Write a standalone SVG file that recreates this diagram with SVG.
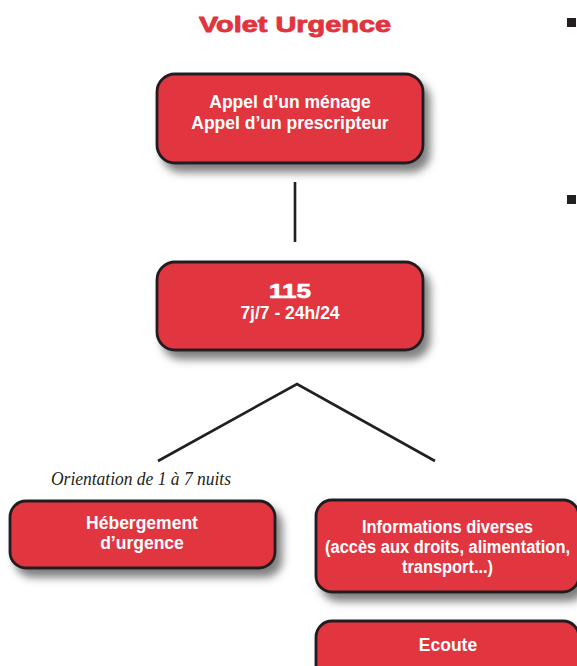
<svg xmlns="http://www.w3.org/2000/svg" width="577" height="666" viewBox="0 0 577 666">
<defs>
<filter id="sh" x="-10%" y="-20%" width="130%" height="150%">
<feDropShadow dx="6" dy="8" stdDeviation="4.5" flood-color="#000" flood-opacity="0.5"/>
</filter>
<style>
.box{fill:#e1343f;stroke:#231f20;stroke-width:2.8;filter:url(#sh)}
.t{font-family:"Liberation Sans",Arial,sans-serif;font-weight:bold;font-size:17.5px;fill:#fff;text-anchor:middle}
.heavy{font-family:"Liberation Sans",Arial,sans-serif;font-weight:bold;stroke-linejoin:round}
.ln{stroke:#231f20;stroke-width:2.6;fill:none}
.note{font-family:"Liberation Serif","Times New Roman",serif;font-style:italic;font-size:18px;fill:#231f20}
</style>
</defs>
<rect width="577" height="666" fill="#fff"/>
<text x="199" y="32" class="heavy" font-size="22.5" fill="#e1343f" stroke="#e1343f" stroke-width="0.9" textLength="192" lengthAdjust="spacingAndGlyphs">Volet Urgence</text>
<rect x="567" y="18" width="9" height="9" fill="#231f20"/>
<rect x="567" y="195" width="9" height="9" fill="#231f20"/>
<g id="connectors">
<line class="ln" x1="295" y1="182" x2="295" y2="242"/>
<polyline class="ln" points="158,461 297,384 435,461"/>
</g>
<g id="appel">
<rect class="box" x="157" y="74" width="266" height="89" rx="18"/>
<text class="t" x="290" y="108">Appel d’un ménage</text>
<text class="t" x="290" y="129">Appel d’un prescripteur</text>
</g>
<g id="n115">
<rect class="box" x="157" y="262" width="266" height="88" rx="18"/>
<text class="heavy" x="290" y="298" font-size="21" fill="#fff" stroke="#fff" stroke-width="0.7" text-anchor="middle" textLength="42" lengthAdjust="spacingAndGlyphs">115</text>
<text class="t" x="290" y="319" font-size="17">7j/7 - 24h/24</text>
</g>
<text class="note" x="51" y="485" textLength="180" lengthAdjust="spacingAndGlyphs">Orientation de 1 à 7 nuits</text>
<g id="hebergement">
<rect class="box" x="10" y="501" width="265" height="67" rx="16"/>
<text class="t" x="142" y="529">Hébergement</text>
<text class="t" x="142" y="549">d’urgence</text>
</g>
<g id="informations">
<rect class="box" x="316" y="500" width="263" height="92" rx="16"/>
<text class="t" x="447.5" y="533" font-size="17" textLength="171" lengthAdjust="spacingAndGlyphs">Informations diverses</text>
<text class="t" x="447.5" y="553" font-size="17" textLength="245" lengthAdjust="spacingAndGlyphs">(accès aux droits, alimentation,</text>
<text class="t" x="447.5" y="573" font-size="17" textLength="91" lengthAdjust="spacingAndGlyphs">transport...)</text>
</g>
<g id="ecoute">
<rect class="box" x="316" y="621" width="263" height="70" rx="16"/>
<text class="t" x="448" y="651" font-size="17">Ecoute</text>
</g>
</svg>
